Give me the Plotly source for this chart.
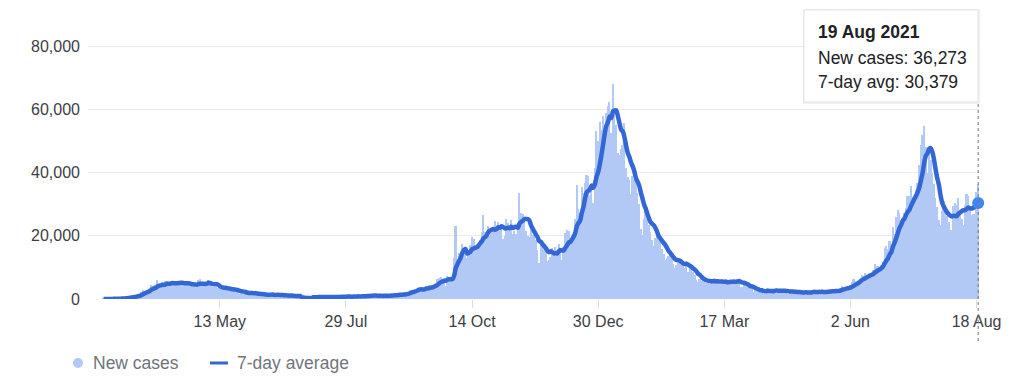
import pandas as pd
import plotly.graph_objects as go

# ---- Daily new cases (UK), read/estimated from the chart ----
start_date = "2020-03-03"
cases_2020_03 = [12, 34, 30, 48, 43, 67, 48, 61, 76, 134, 208, 342, 251, 152, 407, 676, 643, 714,
                 1035, 665, 967, 1427, 1452, 2129, 2885, 2546, 2433, 2619, 3009]
cases_2020_04 = [4324, 4244, 4450, 3735, 5903, 3802, 3634, 5491, 4344, 5706, 5234, 5288, 4342, 5252,
                 4603, 4617, 5599, 5525, 5850, 4676, 4301, 4451, 4583, 5386, 4913, 4463, 4309, 3996,
                 4076, 6032]
cases_2020_05 = [6201, 4806, 4339, 3985, 4406, 6111, 5614, 4649, 3896, 3923, 3877, 3403, 3242, 3446,
                 3560, 3450, 3534, 2684, 3142, 2472, 2615, 3287, 2959, 2405, 1625, 2004, 2013, 1887,
                 2095, 1936, 1570]
cases_2020_06 = [1653, 1871, 1805, 1650, 1557, 1326, 1205, 1741, 1387, 1003, 1266, 1541, 1425, 1514,
                 1056, 1279, 1115, 1218, 1346, 1295, 1221, 958, 874, 653, 1118, 1380, 890, 901, 815, 689]
cases_2020_07 = [829, -1500, 544, 624, 516, 352, 581, 630, 512, 642, 820, 650, 530, 538, 538, 642,
                 687, 827, 580, 580, 445, 560, 769, 768, 880, 747, 685, 581, 763, 846, 880]
cases_2020_08 = [744, 743, 938, 670, 892, 950, 871, 758, 1062, 816, 1148, 1009, 1441, 1012, 1077,
                 1040, 713, 1089, 812, 1182, 1033, 1288, 1041, 853, 1184, 1048, 1522, 1276, 1108,
                 1715, 1406]
cases_2020_09 = [1295, 1508, 1735, 1940, 1813, 2988, 2948, 2460, 2659, 2919, 3539, 3497, 3330, 2621,
                 3105, 3991, 3395, 4322, 4422, 3899, 4368, 4926, 6178, 6634, 6874, 6042, 5693, 4044,
                 7143, 7108]
cases_2020_10 = [6914, 6968, 12872, 22961, 12594, 14542, 14162, 17540, 13864, 15166, 12872, 13972,
                 17234, 19724, 18980, 15650, 16171, 16982, 18804, 21331, 26688, 21242, 20530, 23012,
                 19790, 20890, 22885, 24701, 23065, 24405, 21915]
cases_2020_11 = [23254, 18950, 20018, 25177, 24141, 23287, 24957, 20572, 21350, 20412, 22950, 33470,
                 27301, 26860, 24962, 21363, 20051, 19609, 22915, 20252, 19875, 18662, 15450, 11299,
                 18213, 17555, 16022, 15871, 12155, 12330]
cases_2020_12 = [13430, 16170, 14879, 16298, 15539, 17272, 14718, 12282, 16578, 20964, 21672, 21502,
                 18447, 20263, 18450, 25161, 35928, 28507, 27052, 35383, 33364, 36804, 39237, 39036,
                 32725, 34693, 30501, 41385, 53135, 50023, 55892]
cases_2021_01 = [53285, 57725, 54990, 58784, 60916, 62322, 52618, 68053, 59937, 54940, 46165, 45533,
                 47525, 48682, 55761, 41346, 38598, 37535, 33355, 38905, 37892, 40261, 33552, 30004,
                 22195, 20089, 25308, 28680, 29079, 23275, 21088]
cases_2021_02 = [18607, 16840, 19202, 20634, 19114, 18262, 15845, 14104, 12364, 13013, 13494, 15144,
                 13308, 10972, 9765, 10625, 12718, 12057, 12027, 10406, 9834, 10641, 8489, 9938, 9985,
                 8523, 7434, 6035]
cases_2021_03 = [5455, 6391, 5766, 6573, 6040, 5177, 5177, 4712, 5766, 5926, 6609, 5534, 5465, 4618,
                 5089, 5294, 5758, 6303, 4802, 5587, 5312, 5342, 5379, 5605, 6397, 6187, 3862, 3862,
                 4654, 4040, 4052]
cases_2021_04 = [4479, 3402, 3423, 2297, 2762, 2379, 2589, 2763, 3150, 1730, 1730, 3568, 2472, 2491,
                 2672, 2596, 3089, 1882, 2963, 2524, 2396, 2729, 2678, 2381, 1712, 2064, 2685, 2166,
                 2445, 2411]
cases_2021_05 = [1907, 1671, 1649, 1946, 2613, 2490, 2047, 2047, 1770, 2357, 2474, 2284, 2657, 2193,
                 2027, 1926, 1979, 2412, 2696, 2874, 2829, 2235, 1979, 2439, 2493, 3180, 3542, 4182,
                 3398, 3240, 3383]
cases_2021_06 = [3165, 4330, 5274, 6238, 5765, 5341, 5683, 6048, 7540, 7393, 8125, 7738, 7490, 7742,
                 7673, 9055, 11007, 10476, 10321, 9284, 10633, 11625, 16135, 16703, 15810, 18270,
                 14876, 22868, 20479, 26068]
cases_2021_07 = [27989, 27125, 24885, 24248, 27334, 28773, 32548, 32551, 35707, 32367, 31772, 34471,
                 36660, 42302, 48553, 51870, 54674, 48161, 39950, 46558, 44104, 39906, 36389, 31795,
                 29173, 24950, 23511, 27734, 31117, 29622, 26144]
cases_2021_08 = [24470, 21952, 21691, 29312, 30215, 29622, 31808, 26750, 25161, 23510, 29612, 33074,
                 32700, 29520, 26654, 26750, 26852, 33904, 36273]

# ---- Axis ticks ----
x_tick_dates = ["2020-05-13", "2020-07-29", "2020-10-14", "2020-12-30",
                "2021-03-17", "2021-06-02", "2021-08-18"]
x_tick_labels = ["13 May", "29 Jul", "14 Oct", "30 Dec", "17 Mar", "2 Jun", "18 Aug"]
y_tick_values = [0, 20000, 40000, 60000, 80000]

# ---- Assemble series ----
daily = (cases_2020_03 + cases_2020_04 + cases_2020_05 + cases_2020_06 + cases_2020_07 +
         cases_2020_08 + cases_2020_09 + cases_2020_10 + cases_2020_11 + cases_2020_12 +
         cases_2021_01 + cases_2021_02 + cases_2021_03 + cases_2021_04 + cases_2021_05 +
         cases_2021_06 + cases_2021_07 + cases_2021_08)
dates = pd.date_range(start_date, periods=len(daily), freq="D")
s = pd.Series(daily, index=dates)
avg7 = s.rolling(7, min_periods=1).mean()

# ---- Layout geometry (page pixels; the html body adds an 8px offset) ----
OFF = 8
W, H = 1024 - OFF, 387 - OFF
PLOT_L, PLOT_R, PLOT_T, PLOT_B = 88, 979, 20, 299   # page pixel edges of plot area
ML, MT = PLOT_L - OFF, PLOT_T - OFF
MR, MB = W - (PLOT_R - OFF), H - (PLOT_B - OFF)
PW, PH = PLOT_R - PLOT_L, PLOT_B - PLOT_T


def px(x):
    return (x - PLOT_L) / PW


def py(y):
    return (PLOT_B - y) / PH


BAR_COLOR = "#b1c9f4"
LINE_COLOR = "#3367d6"
DOT_COLOR = "#4285f4"
FONT = "Liberation Sans, Arial, sans-serif"

fig = go.Figure()
fig.add_trace(go.Bar(x=dates, y=s.values, name="New cases",
                     marker=dict(color=BAR_COLOR, line=dict(width=0)),
                     showlegend=False))
fig.add_trace(go.Scatter(x=dates, y=avg7.values, name="7-day average", mode="lines",
                         line=dict(color=LINE_COLOR, width=4.5, shape="spline", smoothing=0.6),
                         showlegend=False))
fig.add_trace(go.Scatter(x=[dates[-1]], y=[avg7.values[-1]], mode="markers",
                         marker=dict(color=DOT_COLOR, size=12), showlegend=False,
                         cliponaxis=False))

last_date = dates[-1]
shapes = [
    # hover guide line
    dict(type="line", xref="x", yref="paper", x0=last_date, x1=last_date,
         y0=py(341), y1=py(102), line=dict(color="#70757a", width=1, dash="dot"),
         layer="above"),
    # tooltip shadow + box
    dict(type="rect", xref="paper", yref="paper", x0=px(803), x1=px(980), y0=py(104), y1=py(9),
         fillcolor="rgba(0,0,0,0.06)", line=dict(width=0), layer="above"),
    dict(type="rect", xref="paper", yref="paper", x0=px(804), x1=px(978), y0=py(102), y1=py(10),
         fillcolor="white", line=dict(color="#e3e3e3", width=1), layer="above"),
    # legend symbols
    dict(type="circle", xref="paper", yref="paper", x0=px(73), x1=px(83), y0=py(368), y1=py(358),
         fillcolor=BAR_COLOR, line=dict(width=0)),
    dict(type="line", xref="paper", yref="paper", x0=px(210), x1=px(228), y0=py(363), y1=py(363),
         line=dict(color=LINE_COLOR, width=3)),
]

date_txt = f"{last_date.day} {last_date.strftime('%b %Y')}"
TIP = dict(size=17.5, color="#202124", family=FONT)
LEG = dict(size=17.5, color="#70757a", family=FONT)
annotations = [
    dict(text=f"<b>{date_txt}</b>", x=px(816), y=py(32), xref="paper", yref="paper",
         xanchor="left", yanchor="middle", showarrow=False, font=TIP),
    dict(text=f"New cases: {int(s.values[-1]):,}", x=px(816), y=py(58), xref="paper", yref="paper",
         xanchor="left", yanchor="middle", showarrow=False, font=TIP),
    dict(text=f"7-day avg: {int(round(avg7.values[-1])):,}", x=px(816), y=py(82), xref="paper",
         yref="paper", xanchor="left", yanchor="middle", showarrow=False, font=TIP),
    dict(text="New cases", x=px(91), y=py(363), xref="paper", yref="paper",
         xanchor="left", yanchor="middle", showarrow=False, font=LEG),
    dict(text="7-day average", x=px(235), y=py(363), xref="paper", yref="paper",
         xanchor="left", yanchor="middle", showarrow=False, font=LEG),
]

y_top = 80000 * PH / (PLOT_B - 46)

fig.update_layout(
    width=W, height=H,
    margin=dict(l=ML, r=MR, t=MT, b=MB, pad=0),
    paper_bgcolor="white", plot_bgcolor="white",
    bargap=0,
    hovermode=False,
    font=dict(family=FONT, size=16, color="#3c4043"),
    shapes=shapes,
    annotations=annotations,
    xaxis=dict(
        type="date",
        range=["2020-02-22 12:00", "2021-08-19 12:00"],
        tickvals=x_tick_dates, ticktext=x_tick_labels,
        ticks="outside", ticklen=8, tickcolor="#dadce0", tickwidth=1,
        showgrid=False, showline=False, zeroline=False,
        tickfont=dict(size=16, color="#3c4043"),
    ),
    yaxis=dict(
        range=[0, y_top],
        tickvals=y_tick_values, tickformat=",d",
        showgrid=True, gridcolor="#ebebeb", gridwidth=1,
        zeroline=False, showline=False, ticks="",
        ticklabelstandoff=7,
        tickfont=dict(size=16, color="#3c4043"),
    ),
)

fig.write_html("out.html")
